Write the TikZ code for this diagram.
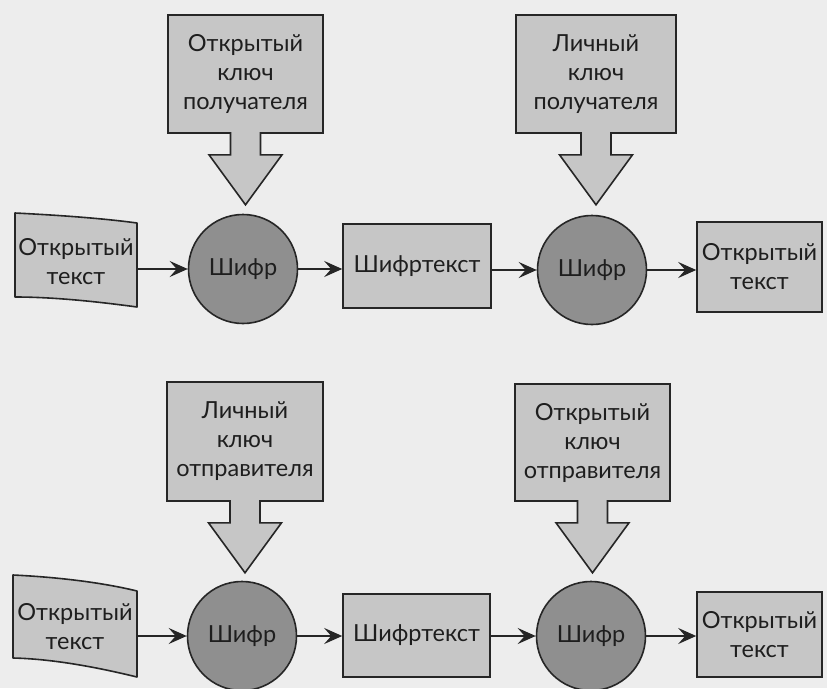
\documentclass[tikz,border=0pt]{standalone}
\usepackage{fontspec}
\setmainfont{Lato}
\usetikzlibrary{arrows.meta,calc}

\definecolor{paper}{HTML}{EDEDED}
\definecolor{ink}{HTML}{1E1E1E}
\definecolor{edge}{HTML}{262626}
\definecolor{boxfill}{HTML}{C6C6C6}
\definecolor{cipherfill}{HTML}{8F8F8F}

\begin{document}
\begin{tikzpicture}[x=1pt,y=-1pt,
  every node/.style={font=\fontsize{23.5}{29}\selectfont, text=ink, align=center},
  keybox/.style={draw=edge, line width=1.6pt, fill=boxfill, inner sep=0pt},
  databox/.style={draw=edge, line width=1.6pt, fill=boxfill, inner sep=0pt},
  docshape/.style={draw=edge, line width=1.6pt, fill=boxfill, line join=round},
  doctext/.style={inner sep=0pt, minimum width=123pt, minimum height=84pt},
  cipher/.style={circle, draw=edge, line width=1.6pt, fill=cipherfill, inner sep=0pt, minimum size=109pt},
  keyarrow/.style={draw=edge, line width=1.6pt, fill=boxfill, line join=miter},
  conn/.style={draw=edge, line width=2.4pt, -{Stealth[length=18pt,width=16pt,inset=7pt]}}
]
\useasboundingbox (0,0) rectangle (827,688);
\clip (0,0) rectangle (827,688);
\fill[paper] (0,0) rectangle (827,688);

% ---------- upper chain: encryption with the recipient's keys ----------
% plaintext sheet (slightly curled page)
\path[docshape] (15,213) .. controls (55,215) and (100,218) .. (137,223)
  -- (137,307) .. controls (100,302) and (55,297) .. (15,297) -- cycle;
\node[doctext] (p1) at (76,262) {Открытый\\текст};

\node[keybox, minimum width=155pt, minimum height=118pt] (k1) at (245.5,74) {Открытый\\ключ\\получателя};
\node[keybox, minimum width=160pt, minimum height=118pt] (k2) at (596,74) {Личный\\ключ\\получателя};

\node[cipher] (c1) at (243,269) {Шифр};
\node[cipher] (c2) at (592,270) {Шифр};

\node[databox, minimum width=148pt, minimum height=84pt] (t1) at (417,266) {Шифртекст};
\node[databox, minimum width=125pt, minimum height=90pt] (o1) at (759.5,267) {Открытый\\текст};

% ---------- lower chain: signing with the sender's keys ----------
\path[docshape] (13,575) .. controls (55,577) and (100,582) .. (137,591)
  -- (137,677) .. controls (100,668) and (55,659) .. (13,658) -- cycle;
\node[doctext] (p2) at (75,627) {Открытый\\текст};

\node[keybox, minimum width=156pt, minimum height=119pt] (k3) at (245,441.5) {Личный\\ключ\\отправителя};
\node[keybox, minimum width=155pt, minimum height=117pt] (k4) at (592.5,442.5) {Открытый\\ключ\\отправителя};

\node[cipher] (c3) at (242,636) {Шифр};
\node[cipher] (c4) at (591,636) {Шифр};

\node[databox, minimum width=147pt, minimum height=83pt] (t2) at (416.5,635.5) {Шифртекст};
\node[databox, minimum width=125pt, minimum height=85pt] (o2) at (759.5,634.5) {Открытый\\текст};

% ---------- broad key arrows (stem merges into the key box) ----------
\foreach \k in {k1,k2,k3,k4}{
  \path[keyarrow] ($(\k.south)+(-15,-1.7)$) -- ++(0,22.7) -- ++(-21.5,0)
    -- ++(36.5,50) -- ++(36.5,-50) -- ++(-21.5,0) -- ++(0,-22.7);
}

% ---------- thin flow arrows ----------
\draw[conn] (p1.east |- c1.west) -- (c1.west);
\draw[conn] (c1.east) -- (c1.east -| t1.west);
\draw[conn] (t1.east |- c2.west) -- (c2.west);
\draw[conn] (c2.east) -- (c2.east -| o1.west);

\draw[conn] (p2.east |- c3.west) -- (c3.west);
\draw[conn] (c3.east) -- (c3.east -| t2.west);
\draw[conn] (t2.east |- c4.west) -- (c4.west);
\draw[conn] (c4.east) -- (c4.east -| o2.west);
\end{tikzpicture}
\end{document}
